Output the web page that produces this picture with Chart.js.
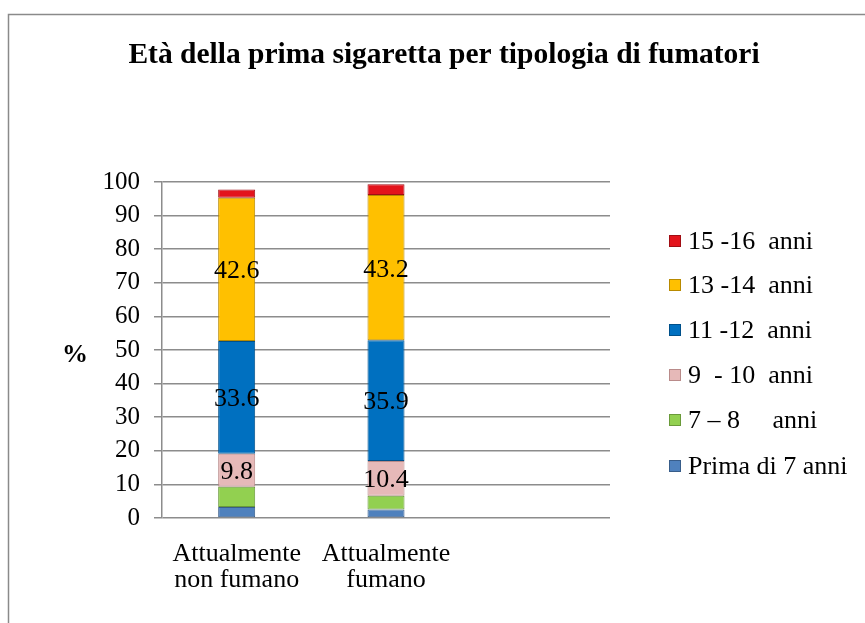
<!DOCTYPE html>
<html><head><meta charset="utf-8">
<script src="https://cdn.jsdelivr.net/npm/chart.js@4"></script>
<style>html,body{margin:0;padding:0;background:#fff}#wrap{width:865px;height:623px}</style>
</head><body><div id="wrap"><canvas id="c" width="865" height="623"></canvas></div>
<script>
const categories = [['Attualmente','non fumano'], ['Attualmente','fumano'], ''];
const seriesLabels = ['Prima di 7 anni', '7 \u2013 8     anni', '9  - 10  anni', '11 -12  anni', '13 -14  anni', '15 -16  anni'];
const prima7 = [3.3, 2.5, null];
const anni7_8 = [6.0, 4.1, null];
const anni9_10 = [9.8, 10.4, null];
const anni11_12 = [33.6, 35.9, null];
const anni13_14 = [42.6, 43.2, null];
const anni15_16 = [2.5, 3.2, null];
const yTicks = [0,10,20,30,40,50,60,70,80,90,100];
const titleText = 'Età della prima sigaretta per tipologia di fumatori';
const labeledSeries = [2,3,4];

const colors = ['#4f81bd','#92d050','#e6b9b8','#0070c0','#ffc000','#e3141c'];
const borders = ['#385d8a','#6a9a3a','#b98b8a','#00508a','#b88a00','#a00e14'];
const seriesData = [prima7, anni7_8, anni9_10, anni11_12, anni13_14, anni15_16];
const FONT = "'Liberation Serif', 'Times New Roman', serif";

const decor = {
  id: 'decor',
  afterDraw(chart) {
    const ctx = chart.ctx;
    ctx.save();
    ctx.strokeStyle = '#8a8a8a'; ctx.lineWidth = 1.5;
    ctx.strokeRect(8.5, 14.5, 900, 700);
    ctx.fillStyle = '#000';
    ctx.font = "bold 29.5px " + FONT;
    ctx.textAlign = 'center'; ctx.textBaseline = 'alphabetic';
    ctx.fillText(titleText, 444, 63);
    ctx.font = "bold 26px " + FONT;
    ctx.fillText('%', 75, 362);
    ctx.font = "26px " + FONT;
    ctx.textBaseline = 'middle';
    labeledSeries.forEach(di => {
      const meta = chart.getDatasetMeta(di);
      meta.data.forEach((el, i) => {
        const v = seriesData[di][i];
        if (v == null) return;
        const cy = (el.y + el.base) / 2;
        ctx.fillText(String(v), el.x, cy + 2);
      });
    });
    ctx.textAlign = 'left';
    ctx.font = "26px " + FONT;
    const rowsY = [241, 285, 330, 375, 420, 466];
    for (let k = 0; k < 6; k++) {
      const di = 5 - k;
      const y = rowsY[k];
      ctx.fillStyle = colors[di];
      ctx.fillRect(669, y - 6, 12, 12);
      ctx.strokeStyle = borders[di]; ctx.lineWidth = 1;
      ctx.strokeRect(669.5, y - 5.5, 11, 11);
      ctx.fillStyle = '#000';
      ctx.fillText(seriesLabels[di], 688, y + 1);
    }
    ctx.restore();
  }
};

new Chart(document.getElementById('c'), {
  type: 'bar',
  data: {
    labels: categories,
    datasets: seriesData.map((d, i) => ({
      label: seriesLabels[i],
      data: d,
      backgroundColor: colors[i],
      borderColor: borders[i],
      borderWidth: 1,
      borderSkipped: false,
      barPercentage: 1,
      categoryPercentage: 0.248
    }))
  },
  options: {
    responsive: false,
    animation: false,
    layout: { padding: { left: 100, right: 255, top: 182, bottom: 0 } },
    plugins: { legend: { display: false }, title: { display: false }, tooltip: { enabled: false } },
    scales: {
      x: {
        stacked: true,
        grid: { display: false },
        border: { display: false },
        ticks: { color: '#000', font: { family: FONT, size: 26, lineHeight: 1.0 }, padding: 15, maxRotation: 0, autoSkip: false },
        afterFit: s => { s.height = 105; }
      },
      y: {
        stacked: true,
        min: 0, max: 100,
        afterBuildTicks: s => { s.ticks = yTicks.map(v => ({ value: v })); },
        grid: { color: '#8c8c8c', lineWidth: 1.5, tickLength: 8 },
        border: { display: true, color: '#8c8c8c', width: 1.5 },
        ticks: { color: '#000', font: { family: FONT, size: 25 }, padding: 14 },
        afterFit: s => { s.width = 62; }
      }
    }
  },
  plugins: [decor]
});
</script>
</body></html>
